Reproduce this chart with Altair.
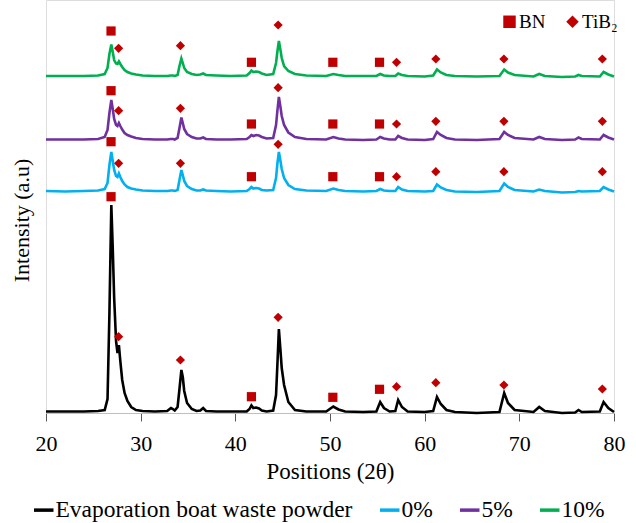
import altair as alt
import pandas as pd

# 2-theta positions shared by all patterns
positions = [
    20, 22, 24, 25.5, 26.2, 26.5, 26.7, 26.9, 27.05, 27.2,
    27.4, 27.55, 27.7, 27.85, 28.05, 28.3, 28.6, 29.0, 29.5, 30.2,
    31.5, 32.8, 33.2, 33.4, 33.6, 33.9, 34.1, 34.3, 34.45, 34.6,
    34.9, 35.4, 35.9, 36.3, 36.6, 36.9, 38, 39.5, 41.2, 41.5,
    41.7, 41.9, 42.2, 42.5, 42.8, 43.3, 44.0, 44.3, 44.45, 44.6,
    44.75, 44.9, 45.15, 45.6, 46.3, 47.5, 49.6, 50.35, 50.9, 51.6,
    53.5, 54.9, 55.3, 55.7, 56.3, 56.9, 57.2, 57.6, 58.2, 60.0,
    60.9, 61.3, 61.7, 62.3, 63.2, 65.5, 67.9, 68.4, 68.8, 69.5,
    71.5, 72.1, 72.7, 74.5, 75.9, 76.25, 76.6, 78.5, 78.9, 79.4, 80,
]

waste = [
    1.5, 1.5, 1.5, 2, 3, 14, 100, 208, 165, 115,
    72, 60, 68, 52, 33, 20, 12, 6, 3, 2,
    1.5, 2, 5, 4, 2.5, 6, 24, 43, 36, 22,
    10, 4, 2, 2.5, 5, 2, 1.5, 1.5, 1.5, 4,
    7.5, 5, 5.5, 4.5, 2.5, 1.5, 2.5, 18, 50, 84,
    65, 45, 28, 11, 3, 1.5, 1.5, 6.5, 3.5, 1.5,
    1, 1.5, 11, 5, 1.5, 2, 13, 6, 1.5, 1,
    2, 16, 9, 3, 1, 0, 1, 20, 10, 3,
    1, 6, 2, 0, 0.5, 3, 1, 1.5, 11, 5, 1,
]

p0 = [
    222, 221.5, 222, 222.5, 224, 230, 248, 261, 252, 243,
    237, 236, 239.5, 236, 232, 228.5, 226, 224.5, 223.5, 222.5,
    222, 222, 222.5, 222.5, 222, 223, 233, 243, 238, 232,
    227, 224, 222.5, 222.5, 223.5, 222.5, 222, 221.5, 222, 224,
    226, 224.5, 225, 224.5, 223, 222.5, 223, 235, 250, 261,
    253, 244, 235, 228, 224, 222.5, 222, 224.5, 223, 222,
    221.5, 222, 224, 222.5, 222, 222, 226, 223.5, 222, 221.5,
    222, 228.5, 225.5, 223, 221.5, 221, 222, 229.5, 226, 223,
    221.5, 223.5, 222, 220.5, 221, 222, 221.5, 222, 226, 223.5, 221.5,
]

p5 = [
    273.5, 273.5, 273.5, 274, 276, 283, 300, 313, 304, 294,
    288, 287, 290, 287, 283.5, 280, 278, 276.5, 275, 274,
    273.5, 273.5, 274, 274, 273.5, 275, 285, 295.5, 290, 284,
    279, 276, 274.5, 274.5, 275.5, 274, 273.5, 273.5, 274, 276,
    278, 277, 278, 277.5, 276, 274.5, 275, 288, 303, 316,
    307, 297, 288, 280.5, 276, 274, 273.5, 276, 274.5, 273.5,
    273, 273.5, 276, 274.5, 273.5, 273.5, 277, 275, 273.5, 273,
    274, 281, 278, 275, 273.5, 273, 274, 281, 278, 275,
    273.5, 276, 274, 273, 273.5, 275.5, 274, 273.5, 278, 275.5, 273.5,
]

p10 = [
    337, 337, 337, 337.5, 339, 345, 359, 368.5, 361, 353,
    349.5, 349, 351.5, 349, 346, 343, 341, 339.5, 338.5, 337.5,
    337, 337, 337.5, 337.5, 337, 338, 347, 354.5, 350, 345,
    341, 339, 338, 338.5, 339.5, 338, 337.5, 337, 337.5, 340,
    342.5, 341, 341.5, 341, 339.5, 338, 339, 350, 362, 372,
    364, 355, 347, 342, 339, 337.5, 337, 339, 338, 337,
    337, 337, 339, 337.5, 337, 337, 339.5, 338, 337, 336.5,
    337.5, 343.5, 340.5, 338, 337, 336.5, 337, 343.5, 340.5, 338,
    336.5, 339, 337, 336, 336.5, 338, 337, 336.5, 341, 338.5, 336.5,
]

series_names = ["Evaporation boat waste powder", "0%", "5%", "10%"]
series_colors = ["#000000", "#00B0F0", "#7030A0", "#00B050"]

# phase markers
marker_pos = [26.87, 27.67, 34.2, 41.7, 44.52, 50.3, 55.23, 57.03, 61.18, 68.37, 78.77]
marker_phase = ["BN", "TiB₂", "TiB₂", "BN", "TiB₂", "BN", "BN", "TiB₂", "TiB₂", "TiB₂", "TiB₂"]
marker_waste = [216.3, 76.3, 53, 16.3, 95.7, 15.7, 23.7, 26.3, 30.3, 28, 24]
marker_p0 = [271.3, 249.7, 249.7, 236.3, 268.7, 236.3, 236.3, 236.3, 241.3, 241.3, 241.3]
marker_p5 = [322.3, 302.3, 304.7, 289, 325.3, 289, 289, 289, 291.7, 291.7, 291.7]
marker_p10 = [382, 364.7, 367.3, 350.7, 388, 350.7, 350.7, 350.7, 354, 354, 354]

rows = []
for name, vals in zip(series_names, [waste, p0, p5, p10]):
    for i, (x, y) in enumerate(zip(positions, vals)):
        rows.append({"series": name, "x": x, "y": y, "order": i})
lines_df = pd.DataFrame(rows)

mrows = []
for vals in [marker_waste, marker_p0, marker_p5, marker_p10]:
    for x, ph, y in zip(marker_pos, marker_phase, vals):
        mrows.append({"x": x, "y": y, "phase": ph})
markers_df = pd.DataFrame(mrows)

FONT = "Liberation Serif"

x_enc = alt.X(
    "x:Q",
    scale=alt.Scale(domain=[20, 80], nice=False, zero=False),
    axis=alt.Axis(
        title="Positions (2θ)",
        values=[20, 30, 40, 50, 60, 70, 80],
        format="d",
        grid=False,
        labelFlush=False,
        labelOverlap=False,
        domainColor="#bfbfbf",
        domainWidth=1,
        tickColor="#595959",
        tickSize=8,
        labelPadding=12,
        labelFontSize=22,
        labelColor="black",
        labelFont=FONT,
        titleFont=FONT,
        titleFontSize=23,
        titleFontWeight="normal",
        titleColor="black",
        titleY=47,
        titleBaseline="top",
    ),
)
y_enc = alt.Y(
    "y:Q",
    scale=alt.Scale(domain=[0, 413], nice=False, zero=False),
    axis=alt.Axis(
        title="Intensity (a.u)",
        domain=False,
        ticks=False,
        labels=False,
        grid=False,
        titleFont=FONT,
        titleFontSize=22,
        titleFontWeight="normal",
        titleColor="black",
        titleX=-13,
        titleY=220,
        titleAngle=270,
        titleBaseline="bottom",
        titleAlign="center",
    ),
)

lines = alt.Chart(lines_df).mark_line(strokeWidth=2.6).encode(
    x=x_enc,
    y=y_enc,
    order="order:Q",
    color=alt.Color(
        "series:N",
        scale=alt.Scale(domain=series_names, range=series_colors),
        sort=series_names,
        legend=alt.Legend(
            title=None,
            orient="none",
            legendX=-14,
            legendY=498,
            direction="horizontal",
            columns=4,
            symbolType="stroke",
            symbolSize=380,
            symbolStrokeWidth=3.5,
            labelFont=FONT,
            labelFontSize=23.5,
            labelColor="black",
            labelOffset=0,
            columnPadding=20,
            labelLimit=400,
            padding=0,
        ),
    ),
)

markers = alt.Chart(markers_df).mark_point(filled=True, size=85, opacity=1).encode(
    x="x:Q",
    y="y:Q",
    color=alt.value("#C00000"),
    shape=alt.Shape(
        "phase:N",
        scale=alt.Scale(domain=["BN", "TiB₂"], range=["square", "diamond"]),
        legend=alt.Legend(
            title=None,
            orient="none",
            legendX=454,
            legendY=12,
            direction="horizontal",
            columns=2,
            symbolSize=155,
            symbolFillColor="#C00000",
            symbolStrokeColor="#C00000",
            symbolStrokeWidth=0,
            labelFont=FONT,
            labelFontSize=19,
            labelColor="black",
            labelOffset=0,
            columnPadding=17,
            padding=0,
        ),
    ),
)

chart = (
    alt.layer(lines, markers)
    .resolve_legend(color="independent", shape="independent")
    .properties(
        width=568,
        height=413,
        autosize=alt.AutoSizeParams(type="none"),
        padding={"left": 46, "top": 0, "right": 22, "bottom": 110},
        background="white",
    )
    .configure_view(stroke=None)
    .configure(font=FONT)
)

chart.save("out.html", embed_options={"renderer": "svg", "actions": False})
